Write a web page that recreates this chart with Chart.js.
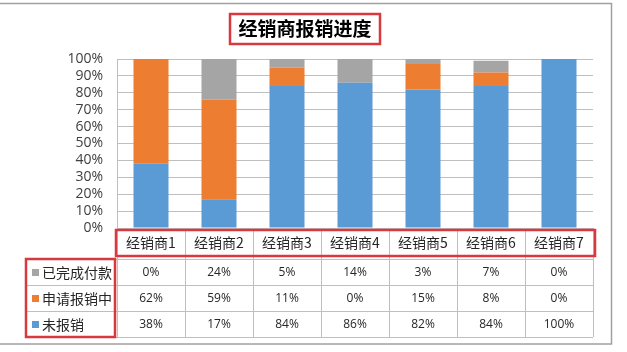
<!DOCTYPE html>
<html><head><meta charset="utf-8">
<script src="https://cdn.jsdelivr.net/npm/chart.js@4/dist/chart.umd.min.js"></script>
<style>html,body{margin:0;padding:0;background:#fff;}#wrap{width:627px;height:352px;position:relative;}</style>
</head><body><div id="wrap"><canvas id="c" width="627" height="352"></canvas></div>
<script>
const title = '经销商报销进度';
const categories = ['经销商1','经销商2','经销商3','经销商4','经销商5','经销商6','经销商7'];
const seriesNames = ['未报销','申请报销中','已完成付款'];
const notReimbursed = [38,17,84,86,82,84,100];
const inProgress = [62,59,11,0,15,8,0];
const paid = [0,24,5,14,3,7,0];
const yTicks = [0,10,20,30,40,50,60,70,80,90,100];
const colors = ['#5B9BD5','#ED7D31','#A5A5A5'];
const seriesData = [notReimbursed, inProgress, paid];

const FONT_CJK = '"Noto Sans CJK SC","Noto Sans",sans-serif';
const FONT_NUM = '"Open Sans","Noto Sans",sans-serif';

const tablePlugin = {
  id: 'tablePlugin',
  afterDraw(chart) {
    const ctx = chart.ctx;
    const xs = chart.scales.x;
    const area = chart.chartArea;
    const n = categories.length;
    const colW = (area.right - area.left) / n;
    const top = area.bottom;
    const catBottom = top + 31;
    const rowH = 26;
    const legLeft = 25;
    const tableBottom = catBottom + rowH * 3;
    ctx.save();
    ctx.strokeStyle = '#bfbfbf';
    ctx.lineWidth = 1;
    ctx.beginPath();
    for (let i = 0; i <= n; i++) {
      const x = Math.round(area.left + i * colW) + 0.5;
      ctx.moveTo(x, top); ctx.lineTo(x, tableBottom);
    }
    for (let r = 0; r <= 3; r++) {
      const y = catBottom + r * rowH + 0.5;
      ctx.moveTo(legLeft, y); ctx.lineTo(area.right, y);
    }
    ctx.moveTo(legLeft + 0.5, catBottom); ctx.lineTo(legLeft + 0.5, tableBottom);
    ctx.stroke();
    ctx.fillStyle = '#262626';
    ctx.textAlign = 'center';
    ctx.textBaseline = 'middle';
    ctx.font = '14px ' + FONT_CJK;
    categories.forEach((c, i) => {
      ctx.fillText(c, xs.getPixelForValue(i), top + 15);
    });
    const order = [2, 1, 0];
    order.forEach((si, r) => {
      const yc = catBottom + r * rowH + rowH / 2 + 1;
      ctx.fillStyle = colors[si];
      ctx.fillRect(32, yc - 4, 7, 7);
      ctx.fillStyle = '#262626';
      ctx.textAlign = 'left';
      ctx.font = '14px ' + FONT_CJK;
      ctx.fillText(seriesNames[si], 42, yc);
      ctx.textAlign = 'center';
      ctx.font = '12px ' + FONT_NUM;
      seriesData[si].forEach((v, i) => {
        ctx.fillText(v + '%', xs.getPixelForValue(i), yc);
      });
    });
    ctx.font = 'bold 19px ' + FONT_CJK;
    ctx.fillStyle = '#000';
    ctx.textAlign = 'center';
    ctx.fillText(title, 305, 29);
    ctx.strokeStyle = '#a0a0a0';
    ctx.lineWidth = 1.5;
    ctx.strokeRect(-2, 3.5, 613.5, 340.5);
    ctx.strokeStyle = '#D8383E';
    ctx.lineWidth = 2.5;
    ctx.strokeRect(230, 14, 150, 30);
    ctx.strokeRect(116, 230, 479, 26);
    ctx.strokeRect(26, 259, 89, 78);
    ctx.restore();
  }
};

new Chart(document.getElementById('c'), {
  type: 'bar',
  data: {
    labels: categories,
    datasets: seriesNames.map((name, i) => ({
      label: name,
      data: seriesData[i],
      backgroundColor: colors[i],
      borderWidth: 0,
      categoryPercentage: 1,
      barPercentage: 0.515
    }))
  },
  options: {
    responsive: false,
    animation: false,
    devicePixelRatio: 1,
    layout: { padding: { top: 59, bottom: 124, right: 34, left: 0 } },
    plugins: { legend: { display: false }, title: { display: false }, tooltip: { enabled: false } },
    scales: {
      x: { stacked: true, display: false },
      y: {
        stacked: true,
        min: 0, max: 100,
        afterFit(scale) { scale.width = 117; },
        afterBuildTicks(scale) { scale.ticks = yTicks.map(v => ({ value: v })); },
        ticks: {
          autoSkip: false,
          callback: v => v + '%',
          padding: 14,
          color: '#404040',
          font: { size: 14, family: FONT_NUM }
        },
        grid: { color: '#bfbfbf', drawTicks: false },
        border: { display: true, color: '#bfbfbf' }
      }
    }
  },
  plugins: [tablePlugin]
});
</script>
</body></html>
